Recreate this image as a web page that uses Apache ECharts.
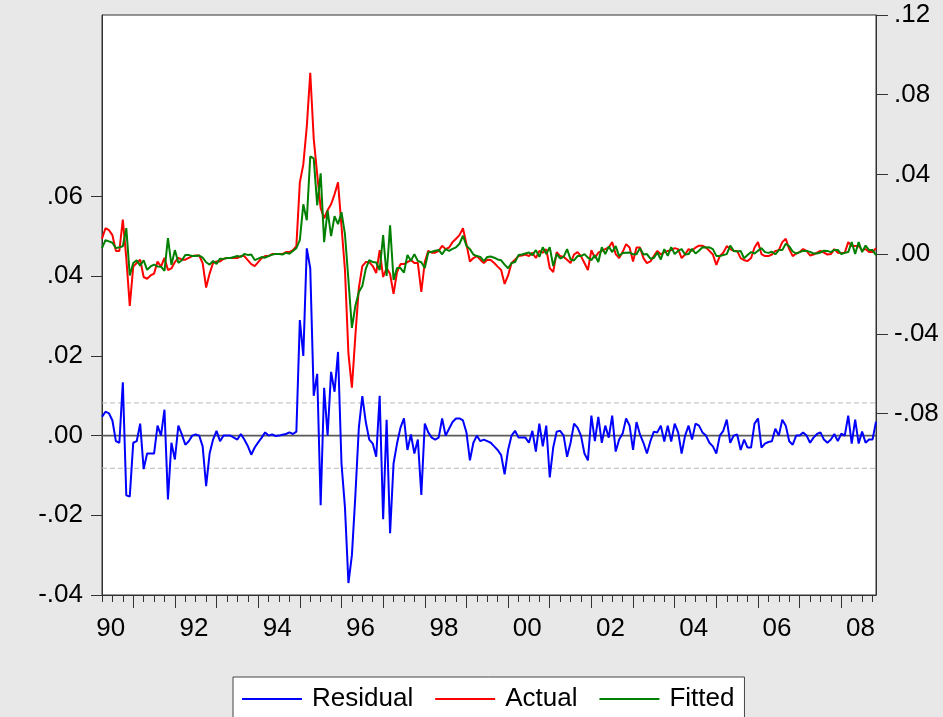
<!DOCTYPE html>
<html><head><meta charset="utf-8">
<script src="https://cdn.jsdelivr.net/npm/echarts@6/dist/echarts.min.js"></script>
<style>html,body{margin:0;padding:0;background:#e8e8e8;}#c{width:943px;height:717px;}</style>
</head><body><div id="c"></div>
<script>
// Monthly observations, 1990M04 .. 2008M11
const startYear = 1990;
const startMonth = 4;

const residual = [
0.0047,0.006,0.0056,0.0038,-0.0014,-0.0018,0.0134,-0.015,-0.0153,-0.0018,
-0.0014,0.003,-0.0084,-0.0045,-0.0045,-0.0045,0.0025,0,0.0065,-0.016,
-0.0018,-0.006,0.0025,0.0003,-0.0023,-0.0014,0,0.0003,0,-0.0027,
-0.0127,-0.0045,-0.001,0.0012,-0.0014,0,0,0,-0.0005,-0.001,
0.0004,-0.001,-0.0026,-0.0048,-0.003,-0.0017,-0.0005,0.0008,0,0.0003,
-0.0001,0,0.0002,0.0004,0.0008,0.0004,0.001,0.029,0.020,0.047,
0.042,0.010,0.0155,-0.0175,0.012,0,0.016,0.011,0.021,-0.007,
-0.018,-0.037,-0.030,-0.015,0.002,0.0099,0.0034,-0.001,-0.002,-0.0053,
0.010,-0.021,0.004,-0.0245,-0.007,-0.002,0.002,0.0043,-0.0036,0.0003,
-0.0045,-0.001,-0.0149,0.003,0.0008,-0.0005,-0.001,-0.0005,0.0043,0,
0.0017,0.0034,0.0043,0.0043,0.0038,0.0008,-0.0062,-0.0018,0,-0.0014,
-0.001,-0.0014,-0.0018,-0.0027,-0.0036,-0.0049,-0.0097,-0.0036,0,0.0012,
-0.0005,-0.0005,-0.0005,-0.0018,0.0012,-0.004,0.003,-0.0027,0.0025,-0.0105,
-0.003,0.001,0.0012,0,-0.0053,-0.0018,0.003,0.002,0,-0.0045,
-0.0062,0.005,-0.0014,0.0047,-0.0018,0.0025,-0.0005,0.005,-0.004,-0.001,
0.0005,0.0043,0.0025,-0.0036,0.0034,0.0003,-0.0018,-0.0045,-0.0014,0.001,
0.0008,0.0025,-0.0015,0.0025,-0.0015,0.003,0.0008,-0.0045,0,0.0025,
-0.001,0.003,0.0025,0.0008,0,-0.0018,-0.0027,-0.0045,0,0.0012,
0.004,-0.0018,0,0.0003,-0.0036,-0.001,-0.003,-0.003,0.003,0.0043,
-0.003,-0.002,-0.0016,-0.0014,0.0017,0,0.004,0.0025,-0.0014,-0.0023,
0,0,0.0008,0,-0.0018,-0.0005,0.0004,0.0008,-0.001,-0.0018,
-0.001,0.0004,-0.0014,0.0005,0,0.005,-0.002,0.004,-0.002,0.001,
-0.0018,-0.001,-0.001,0.0035
];

const actual = [
0.0077,0.013,0.012,0.0095,0.0016,0.0016,0.0173,-0.002,-0.026,-0.0063,
-0.0045,-0.0028,-0.0115,-0.0124,-0.0107,-0.0098,-0.0037,-0.0063,-0.0019,-0.008,
-0.0072,-0.004,-0.0019,-0.0028,-0.0028,-0.0019,-0.001,-0.0007,-0.0007,-0.0045,
-0.0168,-0.0098,-0.0045,-0.0037,-0.0037,-0.0024,-0.002,-0.002,-0.002,-0.002,
-0.001,-0.001,-0.003,-0.005,-0.006,-0.004,-0.002,-0.001,-0.001,0,
0,0,0,0.001,0.001,0.002,0.004,0.036,0.045,0.064,
0.091,0.058,0.040,0.023,0.018,0.022,0.025,0.030,0.036,0.014,
-0.008,-0.050,-0.067,-0.041,-0.017,-0.006,-0.004,-0.004,-0.006,-0.0095,
0.002,-0.0115,-0.007,-0.010,-0.020,-0.009,-0.005,-0.005,-0.004,-0.003,
-0.0045,-0.0045,-0.019,-0.004,0.0016,0.0007,0.0007,0.0016,0.0042,0.0025,
0.0033,0.006,0.0077,0.0095,0.013,0.005,-0.0037,-0.002,-0.001,-0.0028,
-0.0045,-0.0028,-0.003,-0.0045,-0.0063,-0.008,-0.015,-0.0107,-0.0045,-0.0028,
-0.001,-0.0007,-0.0002,-0.001,0.0007,-0.002,0.0016,0.0007,0.0025,-0.007,
-0.009,0.001,-0.001,-0.0014,-0.0028,-0.0045,-0.0002,0.001,-0.001,-0.0045,
-0.008,0.002,-0.0019,0.0007,0.0016,0.0025,0.0033,0.006,0,-0.002,
0.001,0.005,0.0033,-0.0037,0.0033,0.0033,-0.002,-0.0045,-0.0037,-0.001,
0.0016,-0.0002,0.001,0.0016,0.002,0.003,0.0025,-0.002,-0.0002,0.0025,
0.0016,0.0033,0.0042,0.0042,0.0033,0.0016,-0.0002,-0.0054,-0.001,0.0007,
0.004,0.0025,0.0016,0.0016,-0.002,-0.0031,-0.0035,-0.002,0.0033,0.006,
0,-0.001,-0.001,-0.0002,0.0016,0.002,0.006,0.0077,0.0025,-0.001,
0.0003,0.001,0.0025,0.0016,-0.0007,-0.0002,0.0007,0.0016,0.0007,-0.0002,
0,0.0025,0.0007,0.0005,0.0007,0.006,0.004,0.004,0.004,0.002,
0.0025,0.001,0.001,0.003
];

const fitted = [
0.003,0.007,0.0064,0.0057,0.003,0.0034,0.0039,0.013,-0.0107,-0.0045,
-0.0031,-0.0058,-0.0031,-0.0079,-0.0062,-0.0053,-0.0062,-0.0063,-0.0084,0.008,
-0.0054,0.002,-0.0044,-0.0031,-0.0005,-0.0005,-0.001,-0.001,-0.0007,-0.0018,
-0.0041,-0.0053,-0.0035,-0.0049,-0.0023,-0.0024,-0.002,-0.002,-0.0015,-0.001,
-0.0014,0,-0.0004,-0.0002,-0.003,-0.0023,-0.0015,-0.0018,-0.001,-0.0003,
0.0001,0,-0.0002,0.0006,0.0002,0.0016,0.003,0.007,0.025,0.017,
0.049,0.048,0.0245,0.0405,0.006,0.022,0.009,0.019,0.015,0.021,
0.010,-0.013,-0.037,-0.026,-0.019,-0.016,-0.0074,-0.003,-0.004,-0.0042,
-0.008,0.0095,-0.011,0.0145,-0.013,-0.007,-0.007,-0.0093,-0.0004,-0.0033,
0,-0.0035,-0.0041,-0.007,0.0008,0.0012,0.0017,0.0021,-0.0001,0.0025,
0.0016,0.0026,0.0034,0.0052,0.0092,0.0042,0.0025,-0.0002,-0.001,-0.0014,
-0.0035,-0.0014,-0.0012,-0.0018,-0.0027,-0.0031,-0.0053,-0.0071,-0.0045,-0.004,
-0.0005,-0.0002,0.0003,0.0008,-0.0005,0.002,-0.0014,0.0034,0,0.0035,
-0.006,0,-0.0022,-0.0014,0.0025,-0.0027,-0.0032,-0.001,-0.001,0,
-0.0018,-0.003,-0.0005,-0.004,0.0034,0,0.0038,0.001,0.004,-0.001,
0.0005,0.0007,0.0008,-0.0001,-0.0001,0.003,-0.0002,0,-0.0023,-0.002,
0.0008,-0.0027,0.0025,-0.0009,0.0035,0,0.0017,0.0025,-0.0002,0,
0.0026,0.0003,0.0017,0.0034,0.0033,0.0034,0.0025,-0.0009,-0.001,-0.0005,
0,0.0043,0.0016,0.0013,0.0016,-0.0021,-0.0005,0.001,0.0003,0.0017,
0.003,0.001,0.0006,0.0012,-0.0001,0.002,0.002,0.0052,0.0039,0.0013,
0.0003,0.001,0.0017,0.0016,0.0011,0.0003,0.0003,0.0008,0.0017,0.0016,
0.001,0.0021,0.0021,0,0.0007,0.001,0.006,0,0.006,0.001,
0.0043,0.002,0.002,-0.0005
];

const leftTicks = [-0.04, -0.02, 0, 0.02, 0.04, 0.06];
const rightTicks = [-0.08, -0.04, 0, 0.04, 0.08, 0.12];
const yearLabels = [1990, 1992, 1994, 1996, 1998, 2000, 2002, 2004, 2006, 2008];
const seBand = 0.0082;

const t0 = startMonth - 1;
const tMax = t0 + residual.length - 1;
const pts = arr => arr.map((v, i) => [t0 + i, v]);
const hline = v => [[t0, v], [tMax, v]];
const yearTicks = [];
const quarterTicks = [];
for (let t = t0; t <= tMax; t += 3) { if (t % 12 === 0) yearTicks.push(t); else quarterTicks.push(t); }
const labelPos = yearLabels.map(y => 12 * (y - startYear) + 5.5);

const fmt = v => { const s = Math.abs(v).toFixed(2).replace(/^0/, ''); return (v < -1e-9 ? '-' : '') + s; };
const FONT = 'Liberation Sans, Arial, sans-serif';
const txt = { color: '#000', fontFamily: FONT, fontSize: 26 };
const axCol = '#333';

const refLine = (v, style) => ({ type: 'line', xAxisIndex: 0, yAxisIndex: 0, data: hline(v), symbol: 'none', silent: true, z: 1, lineStyle: style });

const chart = echarts.init(document.getElementById('c'));
chart.setOption({
  animation: false,
  backgroundColor: '#e8e8e8',
  grid: { left: 102, right: 67, top: 15, bottom: 122, show: true, backgroundColor: '#fff', borderColor: axCol, borderWidth: 1, outerBoundsMode: 'none' },
  legend: {
    data: ['Residual', 'Actual', 'Fitted'],
    left: 233, top: 677, orient: 'horizontal', icon: 'rect',
    padding: [9, 10, 40, 9], itemGap: 22, itemWidth: 60, itemHeight: 2,
    backgroundColor: '#fff', borderColor: '#444', borderWidth: 1,
    textStyle: Object.assign({ padding: [0, 0, 0, 5] }, txt)
  },
  xAxis: [
    { type: 'value', min: t0, max: tMax, gridIndex: 0, position: 'bottom',
      axisLine: { show: true, onZero: false, lineStyle: { color: axCol } },
      splitLine: { show: false },
      axisTick: { show: true, length: 13, customValues: yearTicks, lineStyle: { color: axCol } },
      axisLabel: { show: true, customValues: labelPos, margin: 21, formatter: v => String(startYear + Math.floor(v / 12)).slice(2), ...txt } },
    { type: 'value', min: t0, max: tMax, gridIndex: 0, position: 'bottom',
      axisLine: { show: false, onZero: false }, splitLine: { show: false },
      axisTick: { show: true, length: 7, customValues: quarterTicks, lineStyle: { color: axCol } },
      axisLabel: { show: false } }
  ],
  yAxis: [
    { type: 'value', position: 'left', min: -0.04, max: 0.10555,
      axisLine: { show: true, onZero: false, lineStyle: { color: axCol } }, splitLine: { show: false },
      axisTick: { show: true, length: 11, customValues: leftTicks, lineStyle: { color: axCol } },
      axisLabel: { customValues: leftTicks, formatter: fmt, margin: 19, ...txt } },
    { type: 'value', position: 'right', min: -0.1711, max: 0.12,
      axisLine: { show: true, onZero: false, lineStyle: { color: axCol } }, splitLine: { show: false },
      axisTick: { show: true, length: 12, customValues: rightTicks, lineStyle: { color: axCol } },
      axisLabel: { customValues: rightTicks, formatter: fmt, margin: 18, ...txt } }
  ],
  series: [
    refLine(seBand, { color: '#b8b8b8', width: 1, type: [5, 3] }),
    refLine(-seBand, { color: '#b8b8b8', width: 1, type: [5, 3] }),
    refLine(0, { color: '#5a5a5a', width: 1.6, type: 'solid' }),
    { name: 'Residual', type: 'line', xAxisIndex: 0, yAxisIndex: 0, data: pts(residual), symbol: 'none', z: 3,
      lineStyle: { color: '#0000ff', width: 2 }, itemStyle: { color: '#0000ff' } },
    { name: 'Actual', type: 'line', xAxisIndex: 0, yAxisIndex: 1, data: pts(actual), symbol: 'none', z: 3,
      lineStyle: { color: '#ff0000', width: 2 }, itemStyle: { color: '#ff0000' } },
    { name: 'Fitted', type: 'line', xAxisIndex: 0, yAxisIndex: 1, data: pts(fitted), symbol: 'none', z: 3,
      lineStyle: { color: '#008000', width: 2 }, itemStyle: { color: '#008000' } }
  ]
});
</script></body></html>
